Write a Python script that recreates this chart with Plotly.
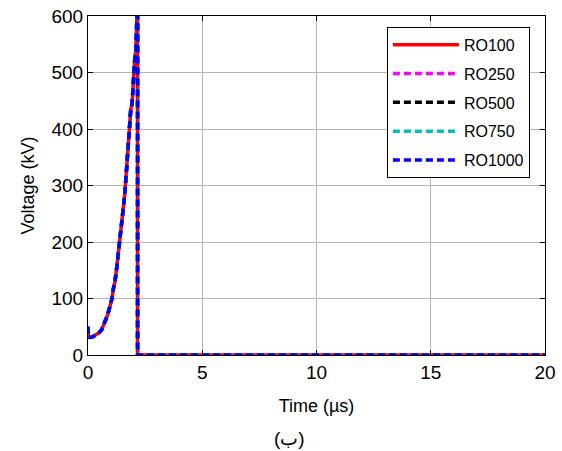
import plotly.graph_objects as go

# Time (µs) and voltage (kV)
time_us = [0.0, 0.02, 0.2, 0.38, 0.5, 0.6, 0.74, 0.85, 0.96, 1.05, 1.11, 1.18, 1.25, 1.32,
           1.4, 1.47, 1.55, 1.62, 1.69, 1.74, 1.77, 1.82, 1.87, 1.93, 1.98, 2.04, 2.1,
           2.14, 2.17, 2.17, 5.0, 10.0, 15.0, 20.0]
voltage_kv = [50, 31, 32, 36, 40, 45, 58, 70, 86, 100, 117, 130, 152, 175,
              203, 230, 262, 290, 333, 350, 376, 410, 434, 445, 492, 520, 542,
              580, 640, 0, 0, 0, 0, 0]

series_names = ["RO100", "RO250", "RO500", "RO750", "RO1000"]
series_colors = ["#ff0000", "#ff00ff", "#000000", "#00bfbf", "#0000ff"]
series_dash = ["solid", "dash", "dash", "dash", "dash"]

x_ticks = [0, 5, 10, 15, 20]
y_ticks = [0, 100, 200, 300, 400, 500, 600]

FONT = "Liberation Sans, Arial, sans-serif"

fig = go.Figure()
for i, (name, col, dash) in enumerate(zip(series_names, series_colors, series_dash)):
    fig.add_trace(go.Scatter(
        x=time_us, y=voltage_kv, mode="lines", name=name,
        line=dict(color=col, width=3.5, dash="solid" if dash == "solid" else "7px,4px"),
        legendgroup=f"g{i}",
    ))

axis_common = dict(
    showline=True, linecolor="black", linewidth=1, mirror="ticks",
    ticks="inside", ticklen=5, tickcolor="black",
    showgrid=True, gridcolor="#b5b5b5", gridwidth=1,
    zeroline=False, automargin=False,
    tickfont=dict(family=FONT, size=19, color="black"),
)

fig.update_layout(
    template="none",
    width=562, height=451,
    margin=dict(l=88, r=17, t=16, b=96, autoexpand=False),
    paper_bgcolor="white", plot_bgcolor="white",
    font=dict(family=FONT, color="black"),
    showlegend=True,
    legend=dict(
        x=0.967, xanchor="right", y=0.968, yanchor="top",
        bgcolor="white", bordercolor="black", borderwidth=1,
        font=dict(family=FONT, size=16, color="black"),
        tracegroupgap=5, traceorder="grouped", itemwidth=66,
    ),
    xaxis=dict(axis_common, range=[0, 20], tickvals=x_ticks,
               title=dict(text="Time (µs)", font=dict(family=FONT, size=18), standoff=17)),
    yaxis=dict(axis_common, range=[0, 600], tickvals=y_ticks,
               title=dict(text="Voltage (kV)", font=dict(family=FONT, size=18), standoff=12)),
)

fig.add_annotation(
    text="(ب)", xref="paper", yref="paper", x=0.442, y=-0.245,
    showarrow=False, font=dict(family=FONT, size=19, color="black"),
    xanchor="center", yanchor="middle",
)

fig.write_html("out.html")
